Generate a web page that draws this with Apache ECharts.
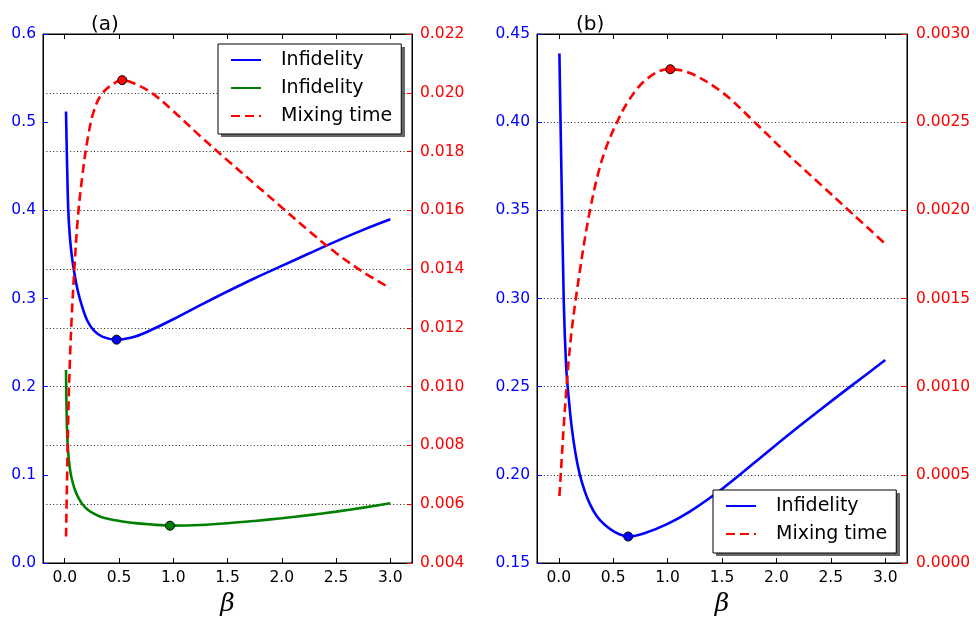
<!DOCTYPE html>
<html>
<head>
<meta charset="utf-8">
<script src="https://cdn.jsdelivr.net/npm/echarts@6/dist/echarts.min.js"></script>
<style>
html,body{margin:0;padding:0;background:#fff;}
#chart{width:976px;height:617px;}
</style>
</head>
<body>
<div id="chart"></div>
<script>
// ---------- data ----------
const betaA   = [0.012, 0.021, 0.033, 0.049, 0.065, 0.089, 0.12, 0.16, 0.21, 0.27, 0.35, 0.48, 0.53, 0.65, 0.8, 1.0, 1.25, 1.5, 1.75, 2.0, 2.25, 2.5, 2.75, 3.0];
const infidA1 = [0.512, 0.457, 0.400, 0.368, 0.349, 0.3286, 0.309, 0.291, 0.2745, 0.2635, 0.2565, 0.2533, 0.2537, 0.2568, 0.2645, 0.2765, 0.2925, 0.3080, 0.3230, 0.3370, 0.3510, 0.3648, 0.3778, 0.3898];
const infidA2 = [0.219, 0.152, 0.124, 0.106, 0.0955, 0.0848, 0.0755, 0.0672, 0.0608, 0.0560, 0.0515, 0.0482, 0.0471, 0.0452, 0.0436, 0.0424, 0.0431, 0.0450, 0.0477, 0.0508, 0.0543, 0.0583, 0.0628, 0.0677];
const mixA    = [0.0049, 0.0067, 0.0090, 0.0110, 0.0124, 0.0140, 0.0157, 0.0171, 0.0184, 0.0194, 0.0200, 0.02038, 0.02043, 0.0203, 0.0200, 0.01938, 0.01852, 0.0177, 0.0169, 0.0161, 0.0153, 0.01455, 0.0139, 0.01335];

const betaB   = [0.006, 0.015, 0.026, 0.046, 0.068, 0.09, 0.115, 0.15, 0.19, 0.24, 0.29, 0.35, 0.42, 0.52, 0.64, 0.8, 1.0, 1.2, 1.5, 1.8, 2.1, 2.4, 2.7, 3.0];
const infidB  = [0.439, 0.405, 0.366, 0.298, 0.2614, 0.2445, 0.229, 0.2135, 0.201, 0.1905, 0.183, 0.1765, 0.1718, 0.1674, 0.1650, 0.1672, 0.1722, 0.1790, 0.1920, 0.2070, 0.2222, 0.2368, 0.2510, 0.2651];
const mixB    = [0.00038, 0.00047, 0.00058, 0.00078, 0.00097, 0.00114, 0.0013, 0.00147, 0.00164, 0.00184, 0.00201, 0.00218, 0.00233, 0.00248, 0.00262, 0.00274, 0.0028, 0.00278, 0.00267, 0.0025, 0.00232, 0.00215, 0.00198, 0.00181];

const markInfA1 = [0.478, 0.2533];
const markInfA2 = [0.97, 0.0423];
const markMixA  = [0.53, 0.02043];
const markInfB  = [0.638, 0.1650];
const markMixB  = [1.025, 0.0028];

const xTicks = [0, 0.5, 1.0, 1.5, 2.0, 2.5, 3.0];
const panelTitles = ['(a)', '(b)'];
const xName = 'β';

// ---------- styles ----------
const BLUE = '#0000ff', GREEN = '#008000', RED = '#ff0000';
const FONT = 'DejaVu Sans';
const pairs = (xs, ys) => xs.map((x, i) => [x, ys[i]]);

function xAxes(grid) {
  return [
    {
      gridIndex: grid, type: 'value', min: -0.2, max: 3.2, position: 'bottom',
      name: xName, nameLocation: 'middle', nameGap: 29,
      nameTextStyle: {fontFamily: 'DejaVu Serif', fontStyle: 'italic', fontSize: 25, color: '#000'},
      axisLine: {show: true, onZero: false, lineStyle: {color: '#000', width: 1}},
      axisTick: {show: true, inside: true, length: 5, customValues: xTicks, lineStyle: {color: '#000'}},
      axisLabel: {show: true, customValues: xTicks, margin: 7, color: '#000', fontFamily: FONT, fontSize: 15.5,
                  formatter: v => Number(v).toFixed(1)},
      splitLine: {show: false}
    },
    {
      gridIndex: grid, type: 'value', min: -0.2, max: 3.2, position: 'top',
      axisLine: {show: true, onZero: false, lineStyle: {color: '#000', width: 1}},
      axisTick: {show: true, inside: true, length: 5, customValues: xTicks, lineStyle: {color: '#000'}},
      axisLabel: {show: false},
      splitLine: {show: false}
    }
  ];
}

function yLeft(grid, min, max, interval, dec) {
  return {
    gridIndex: grid, type: 'value', position: 'left', min, max, interval,
    axisLine: {show: true, onZero: false, lineStyle: {color: '#000', width: 1}},
    axisTick: {show: true, inside: true, length: 5, lineStyle: {color: BLUE}},
    axisLabel: {color: BLUE, fontFamily: FONT, fontSize: 15.5, margin: 7, formatter: v => Number(v).toFixed(dec)},
    splitLine: {show: false}
  };
}
function yRight(grid, min, max, interval, dec, margin) {
  return {
    gridIndex: grid, type: 'value', position: 'right', min, max, interval,
    axisLine: {show: true, onZero: false, lineStyle: {color: '#000', width: 1}},
    axisTick: {show: true, inside: true, length: 5, lineStyle: {color: RED}},
    axisLabel: {color: RED, fontFamily: FONT, fontSize: 15.5, margin: margin, formatter: v => Number(v).toFixed(dec)},
    splitLine: {show: true, lineStyle: {color: '#222', width: 1, type: [1, 2.4]}}
  };
}

function line(name, xi, yi, xs, ys, color, dashed) {
  return {
    name, type: 'line', xAxisIndex: xi, yAxisIndex: yi,
    data: pairs(xs, ys), smooth: 0.35, showSymbol: false, symbol: 'none',
    color: color,
    lineStyle: {color: color, width: 2.6, type: dashed ? [9, 5] : 'solid'},
    z: dashed ? 4 : 3, animation: false
  };
}
function dot(name, xi, yi, pt, color) {
  return {
    name, type: 'scatter', xAxisIndex: xi, yAxisIndex: yi,
    data: [pt], symbol: 'circle', symbolSize: 9,
    itemStyle: {color: color, borderColor: '#000', borderWidth: 1, opacity: 1},
    z: 6, animation: false
  };
}

const legendCommon = {
  orient: 'vertical', itemWidth: 30, itemHeight: 14, itemGap: 8, z: 20,
  backgroundColor: '#fff', borderColor: '#000', borderWidth: 1, borderRadius: 0,
  itemStyle: {opacity: 0},
  textStyle: {fontFamily: FONT, fontSize: 19, color: '#000', lineHeight: 20, padding: [0, 0, 0, 15]},
  formatter: n => n.split('|')[0],
  selectedMode: false
};

const option = {
  backgroundColor: '#fff',
  animation: false,
  title: [
    {text: panelTitles[0], left: 86, top: 10, textStyle: {fontFamily: FONT, fontSize: 20, fontWeight: 'normal', color: '#000'}},
    {text: panelTitles[1], left: 571, top: 10, textStyle: {fontFamily: FONT, fontSize: 20, fontWeight: 'normal', color: '#000'}}
  ],
  legend: [
    Object.assign({}, legendCommon, {left: 218, top: 44, padding: [6, 9, 8, 12],
      data: ['Infidelity|a1', 'Infidelity|a2', 'Mixing time|a']}),
    Object.assign({}, legendCommon, {left: 713, top: 490, padding: [6, 9, 9, 12],
      data: ['Infidelity|b', 'Mixing time|b']})
  ],
  graphic: [
    {type: 'rect', z: 19, silent: true, shape: {x: 221, y: 47, width: 184, height: 90}, style: {fill: 'rgba(0,0,0,0.6)'}},
    {type: 'rect', z: 19, silent: true, shape: {x: 716, y: 493, width: 184, height: 63}, style: {fill: 'rgba(0,0,0,0.6)'}}
  ],
  grid: [
    {left: 43, top: 34, width: 369, height: 529, show: true, borderColor: '#000', borderWidth: 1,
     containLabel: false, outerBoundsMode: 'none'},
    {left: 537, top: 34, width: 370, height: 529, show: true, borderColor: '#000', borderWidth: 1,
     containLabel: false, outerBoundsMode: 'none'}
  ],
  xAxis: [...xAxes(0), ...xAxes(1)],
  yAxis: [
    yLeft(0, 0, 0.6, 0.1, 1),
    yRight(0, 0.004, 0.022, 0.002, 3, 8),
    yLeft(1, 0.15, 0.45, 0.05, 2),
    yRight(1, 0, 0.003, 0.0005, 4, 9)
  ],
  series: [
    line('Infidelity|a1', 0, 0, betaA, infidA1, BLUE, false),
    line('Infidelity|a2', 0, 0, betaA, infidA2, GREEN, false),
    line('Mixing time|a', 0, 1, betaA, mixA, RED, true),
    dot('minA1', 0, 0, markInfA1, BLUE),
    dot('minA2', 0, 0, markInfA2, GREEN),
    dot('maxA', 0, 1, markMixA, RED),
    line('Infidelity|b', 2, 2, betaB, infidB, BLUE, false),
    line('Mixing time|b', 2, 3, betaB, mixB, RED, true),
    dot('minB', 2, 2, markInfB, BLUE),
    dot('maxB', 2, 3, markMixB, RED)
  ]
};

const chart = echarts.init(document.getElementById('chart'), null, {renderer: 'canvas'});
chart.setOption(option);
</script>
</body>
</html>
